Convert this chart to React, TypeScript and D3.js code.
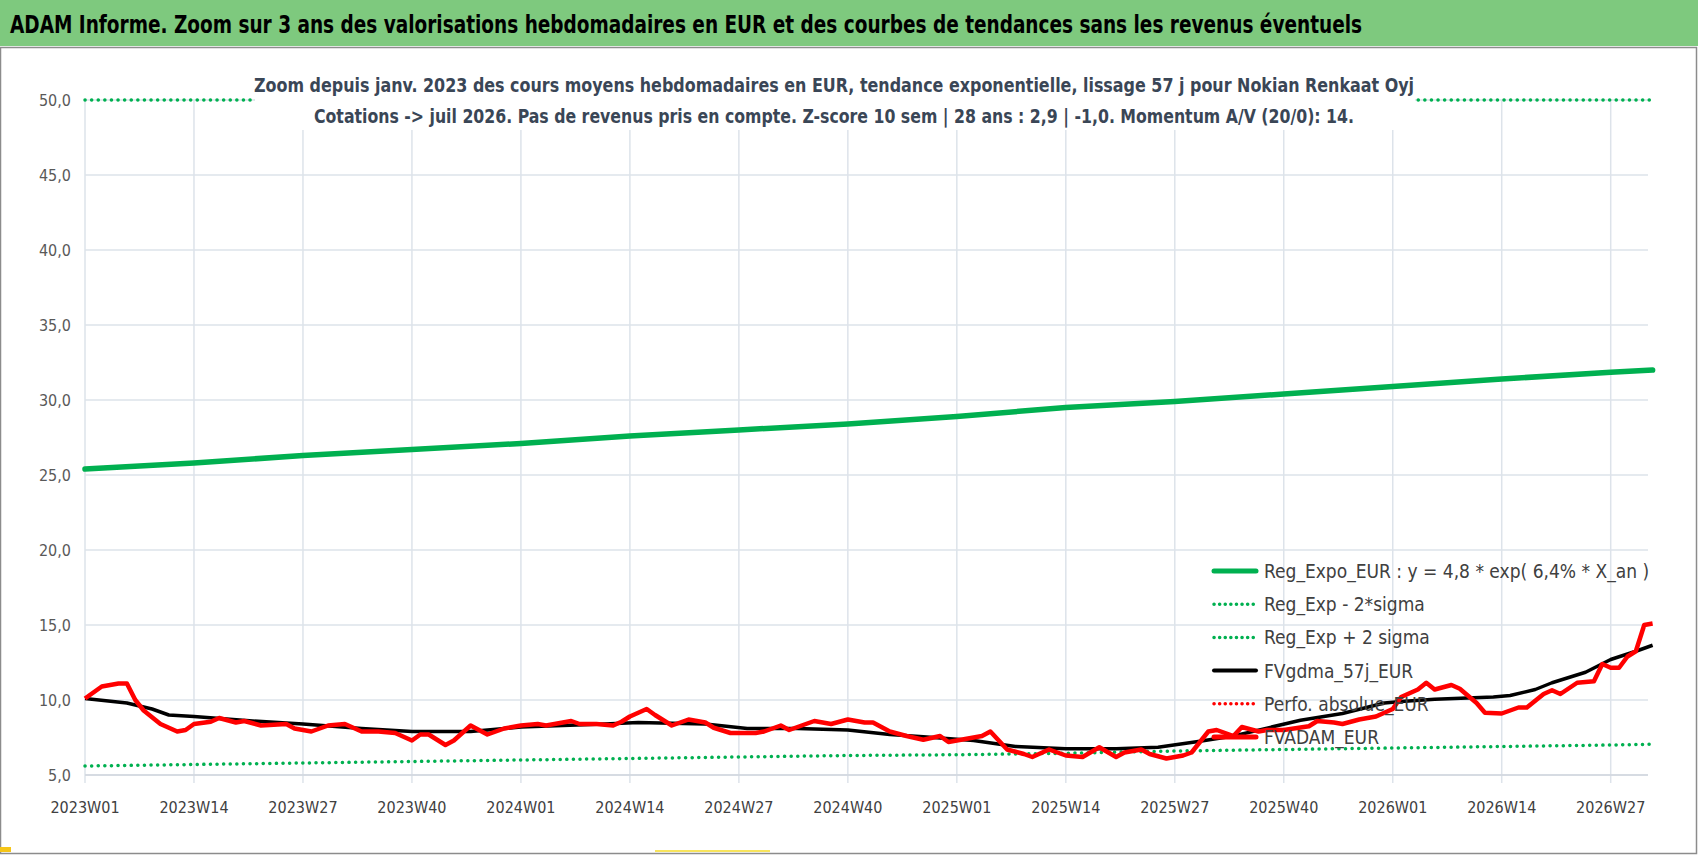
import React from "react";
import * as d3 from "d3";

const startYear = 2023;
const nWeeks = 188;
const tickEvery = 13;
const yTicks = [5, 10, 15, 20, 25, 30, 35, 40, 45, 50];

const trendWeeks = [0, 13, 26, 39, 52, 65, 78, 91, 104, 117, 130, 143, 156, 169, 182, 187];
const trendValues = [25.4, 25.8, 26.3, 26.7, 27.1, 27.6, 28.0, 28.4, 28.9, 29.5, 29.9, 30.4, 30.9, 31.4, 31.85, 32.0];
const lowerValues = [5.6, 5.7, 5.8, 5.9, 6.0, 6.1, 6.2, 6.3, 6.35, 6.45, 6.6, 6.7, 6.8, 6.9, 7.0, 7.05];
const upperWeeks = [0, 187];
const upperValues = [50, 50];

const smaWeeks = [0, 5, 8, 10, 13, 20, 26, 33, 39, 46, 52, 62, 66, 74, 79, 85, 91, 96, 100, 106, 111, 117, 123, 128, 133, 137, 145, 150, 155, 157, 161, 168, 170, 173, 175, 179, 182, 185, 187];
const smaValues = [10.1, 9.8, 9.4, 9.0, 8.9, 8.6, 8.4, 8.1, 7.9, 7.9, 8.2, 8.4, 8.5, 8.4, 8.1, 8.1, 8.0, 7.7, 7.55, 7.3, 6.9, 6.75, 6.75, 6.85, 7.25, 7.6, 8.65, 9.1, 9.8, 9.9, 10.05, 10.2, 10.3, 10.7, 11.15, 11.85, 12.7, 13.25, 13.65];

const priceWeeks = [0, 2, 4, 5, 6, 7, 9, 11, 12, 13, 15, 16, 18, 19, 21, 24, 25, 27, 29, 31, 33, 35, 37, 39, 40, 41, 43, 44, 46, 47, 48, 50, 52, 54, 55, 56, 58, 59, 61, 63, 64, 65, 67, 68, 70, 72, 74, 75, 77, 80, 81, 83, 84, 85, 87, 89, 91, 93, 94, 96, 98, 100, 102, 103, 105, 107, 108, 110, 112, 113, 115, 117, 119, 121, 123, 124, 126, 127, 129, 131, 132, 134, 135, 137, 138, 140, 141, 143, 146, 147, 149, 150, 152, 154, 156, 157, 159, 160, 161, 163, 164, 166, 167, 169, 171, 172, 174, 175, 176, 178, 180, 181, 182, 183, 184, 185, 186, 187];
const priceValues = [10.1, 10.9, 11.1, 11.1, 10.0, 9.3, 8.4, 7.9, 8.0, 8.4, 8.55, 8.8, 8.5, 8.6, 8.3, 8.4, 8.1, 7.9, 8.3, 8.4, 7.9, 7.9, 7.8, 7.3, 7.7, 7.7, 7.0, 7.3, 8.3, 8.0, 7.7, 8.1, 8.3, 8.4, 8.3, 8.4, 8.6, 8.4, 8.4, 8.3, 8.55, 8.9, 9.4, 9.0, 8.3, 8.7, 8.5, 8.15, 7.8, 7.8, 7.9, 8.3, 8.0, 8.2, 8.6, 8.4, 8.7, 8.5, 8.5, 7.9, 7.6, 7.35, 7.6, 7.2, 7.4, 7.6, 7.9, 6.7, 6.4, 6.2, 6.7, 6.3, 6.2, 6.85, 6.2, 6.5, 6.7, 6.4, 6.1, 6.3, 6.5, 7.9, 8.0, 7.6, 8.2, 7.9, 8.0, 8.0, 8.25, 8.6, 8.5, 8.4, 8.7, 8.9, 9.4, 10.2, 10.7, 11.15, 10.7, 11.0, 10.75, 9.8, 9.15, 9.1, 9.5, 9.5, 10.4, 10.65, 10.4, 11.15, 11.25, 12.4, 12.15, 12.15, 12.9, 13.25, 15.0, 15.1];

const legendItems = [
  { label: "Reg_Expo_EUR : y = 4,8 * exp( 6,4% *  X_an )", color: "#00B050", w: 5, dots: false },
  { label: "Reg_Exp - 2*sigma", color: "#00B050", w: 3.5, dots: true },
  { label: "Reg_Exp + 2 sigma", color: "#00B050", w: 3.5, dots: true },
  { label: "FVgdma_57j_EUR", color: "#000000", w: 4, dots: false },
  { label: "Perfo. absolue_EUR", color: "#FF0000", w: 3.5, dots: true },
  { label: "FVADAM_EUR", color: "#FF0000", w: 5, dots: false },
];

function weekLabel(i: number) {
  const y = startYear + Math.floor(i / 52);
  const w = (i % 52) + 1;
  return `${y}W${String(w).padStart(2, "0")}`;
}

const FONT = "'DejaVu Sans Condensed', 'Open Sans', sans-serif";

export default function App() {
  const x = d3.scaleLinear().domain([0, 182]).range([85, 1610.7]);
  const y = d3.scaleLinear().domain([5, 50]).range([775, 100]);
  const line = (ws: number[], vs: number[]) =>
    d3.line<number>().x((_, i) => x(ws[i])).y((v) => y(v))(vs) as string;
  const ticksX = d3.range(0, nWeeks, tickEvery);
  const dotted = { strokeDasharray: "0.1 6.5", strokeLinecap: "round" as const };

  return (
    <svg width={1698} height={856} style={{ position: "absolute", left: 0, top: 0, background: "#fff" }}>
      <rect x={0} y={0} width={1698} height={856} fill="#fff" />
      <rect x={0} y={0} width={1698} height={46} fill="#7EC97E" />
      <text x={10} y={33} fontFamily={FONT} fontWeight="bold" fontSize={25} fill="#000" textLength={1352} lengthAdjust="spacingAndGlyphs">
        ADAM Informe. Zoom sur 3 ans des valorisations hebdomadaires en EUR et des courbes de tendances sans les revenus éventuels
      </text>
      <rect x={0.5} y={47.5} width={1696} height={806} fill="none" stroke="#8c8c8c" strokeWidth={1.5} />
      <rect x={0} y={847} width={11} height={5} fill="#F5C518" />
      <rect x={655} y={850} width={115} height={2} fill="#F8E45C" />
      {yTicks.map((t) => (
        <g key={t}>
          <line x1={85} x2={1648} y1={y(t)} y2={y(t)} stroke="#DDE3EA" strokeWidth={1.5} />
          <text x={71} y={y(t) + 6} textAnchor="end" fontFamily={FONT} fontSize={16} fill="#595959">
            {t.toFixed(1).replace(".", ",")}
          </text>
        </g>
      ))}
      {ticksX.map((t) => (
        <g key={t}>
          <line x1={x(t)} x2={x(t)} y1={y(50)} y2={y(5) + 8} stroke="#DDE3EA" strokeWidth={1.5} />
          <text x={x(t)} y={813} textAnchor="middle" fontFamily={FONT} fontSize={16} fill="#404040">
            {weekLabel(t)}
          </text>
        </g>
      ))}
      <line x1={85} x2={1648} y1={y(5)} y2={y(5)} stroke="#D0D6DE" strokeWidth={1.5} />
      <path d={line(upperWeeks, upperValues)} fill="none" stroke="#00B050" strokeWidth={3.5} {...dotted} />
      <rect x={255} y={68} width={1160} height={62} fill="#fff" />
      <text x={834} y={92} textAnchor="middle" fontFamily={FONT} fontWeight="bold" fontSize={19} fill="#3A4656" textLength={1160} lengthAdjust="spacingAndGlyphs">
        Zoom depuis janv. 2023 des cours moyens hebdomadaires en EUR, tendance exponentielle, lissage 57 j pour Nokian Renkaat Oyj
      </text>
      <text x={834} y={123} textAnchor="middle" fontFamily={FONT} fontWeight="bold" fontSize={19} fill="#3A4656" textLength={1040} lengthAdjust="spacingAndGlyphs">
        Cotations -&gt; juil 2026. Pas de revenus pris en compte. Z-score 10 sem | 28 ans : 2,9 | -1,0. Momentum A/V (20/0): 14.
      </text>
      <path d={line(trendWeeks, lowerValues)} fill="none" stroke="#00B050" strokeWidth={3.5} {...dotted} />
      <path d={line(trendWeeks, trendValues)} fill="none" stroke="#00B050" strokeWidth={5.5} strokeLinejoin="round" strokeLinecap="round" />
      <path d={line(smaWeeks, smaValues)} fill="none" stroke="#000" strokeWidth={3.5} strokeLinejoin="round" />
      <path d={line(priceWeeks, priceValues)} fill="none" stroke="#FF0000" strokeWidth={4.5} strokeLinejoin="round" />
      {legendItems.map((it, i) => {
        const ly = 571 + i * 33.2;
        return (
          <g key={it.label}>
            <line x1={1214} x2={1256} y1={ly} y2={ly} stroke={it.color} strokeWidth={it.w}
              strokeLinecap="round" strokeDasharray={it.dots ? "0.1 5.5" : undefined} />
            <text x={1264} y={ly + 7} fontFamily={FONT} fontSize={19} fill="#404040">{it.label}</text>
          </g>
        );
      })}
    </svg>
  );
}
